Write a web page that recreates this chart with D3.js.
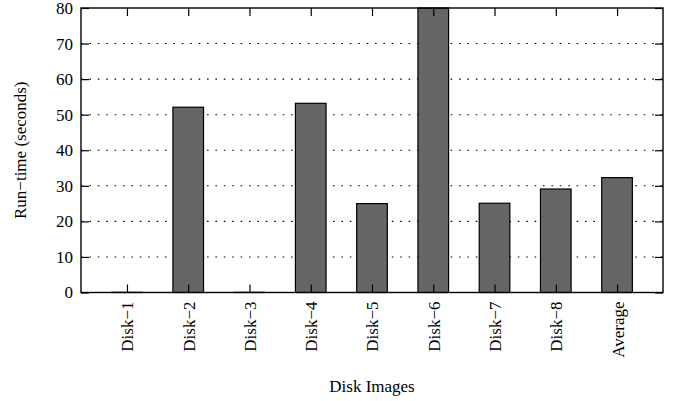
<!DOCTYPE html>
<html>
<head>
<meta charset="utf-8">
<script src="https://cdn.jsdelivr.net/npm/d3@7"></script>
<style>
  body { margin: 0; background: #fff; }
  svg { font-family: "Liberation Serif", "DejaVu Serif", serif; }
  .axis path { display: none; }
  .axis line { stroke: #000; stroke-width: 1.2; }
  .axis text { font-size: 17px; fill: #000; font-family: "Liberation Serif", serif; }
  .grid line { stroke: #000; stroke-width: 1.1; stroke-dasharray: 1.6 6.8; }
</style>
</head>
<body>
<div id="chart"></div>
<script>
const disks = ['Disk\u22121', 'Disk\u22122', 'Disk\u22123', 'Disk\u22124', 'Disk\u22125',
  'Disk\u22126', 'Disk\u22127', 'Disk\u22128', 'Average']
const runTimes = [0.05, 52.1, 0.05, 53.2, 25, 80, 25.1, 29.1, 32.3]
const yTicks = [0, 10, 20, 30, 40, 50, 60, 70, 80]

const dms = {
  width: 678,
  height: 401,
  margin: { top: 8, right: 15, bottom: 108.5, left: 81 }
}
dms.contentWidth = dms.width - dms.margin.left - dms.margin.right
dms.contentHeight = dms.height - dms.margin.top - dms.margin.bottom

const svg = d3.select('#chart').append('svg')
  .attr('width', dms.width)
  .attr('height', dms.height)

const content = svg.append('g')
  .attr('transform', `translate(${dms.margin.left},${dms.margin.top})`)

const xScale = d3.scalePoint()
  .domain(disks)
  .range([0, dms.contentWidth])
  .padding(0.75)

const yScale = d3.scaleLinear()
  .domain([0, 80])
  .range([dms.contentHeight, 0])

const barWidth = xScale.step() / 2

// dotted grid
content.append('g')
  .attr('class', 'grid')
  .selectAll('line')
  .data(yTicks.filter(d => d > 0 && d < 80))
  .join('line')
  .attr('x1', 0)
  .attr('x2', dms.contentWidth)
  .attr('y1', d => yScale(d))
  .attr('y2', d => yScale(d))

// bars
content.append('g')
  .selectAll('rect')
  .data(disks)
  .join('rect')
  .attr('x', d => xScale(d) - barWidth / 2)
  .attr('width', barWidth)
  .attr('y', (d, i) => yScale(runTimes[i]))
  .attr('height', (d, i) => dms.contentHeight - yScale(runTimes[i]))
  .attr('fill', '#666666')
  .attr('stroke', '#000')
  .attr('stroke-width', 1.2)

// axes, ticks pointing inward and mirrored
content.append('g')
  .attr('class', 'axis')
  .call(d3.axisLeft(yScale).tickValues(yTicks).tickSize(-8).tickPadding(8))

content.append('g')
  .attr('class', 'axis')
  .attr('transform', `translate(${dms.contentWidth},0)`)
  .call(d3.axisRight(yScale).tickValues(yTicks).tickSize(-8).tickFormat(''))

const xAxis = content.append('g')
  .attr('class', 'axis')
  .attr('transform', `translate(0,${dms.contentHeight})`)
  .call(d3.axisBottom(xScale).tickSize(-8))

xAxis.selectAll('text')
  .attr('transform', 'rotate(-90)')
  .attr('text-anchor', 'end')
  .attr('x', -9)
  .attr('y', 0)
  .attr('dy', '0.35em')

content.append('g')
  .attr('class', 'axis')
  .call(d3.axisTop(xScale).tickSize(-8).tickFormat(''))

// frame
content.append('rect')
  .attr('width', dms.contentWidth)
  .attr('height', dms.contentHeight)
  .attr('fill', 'none')
  .attr('stroke', '#000')
  .attr('stroke-width', 1.4)

// titles
svg.append('text')
  .attr('transform', `translate(26,${dms.margin.top + dms.contentHeight / 2}) rotate(-90)`)
  .attr('text-anchor', 'middle')
  .style('font-size', '17px')
  .text('Run\u2212time (seconds)')

svg.append('text')
  .attr('x', dms.margin.left + dms.contentWidth / 2)
  .attr('y', 392)
  .attr('text-anchor', 'middle')
  .style('font-size', '17px')
  .text('Disk Images')
</script>
</body>
</html>
